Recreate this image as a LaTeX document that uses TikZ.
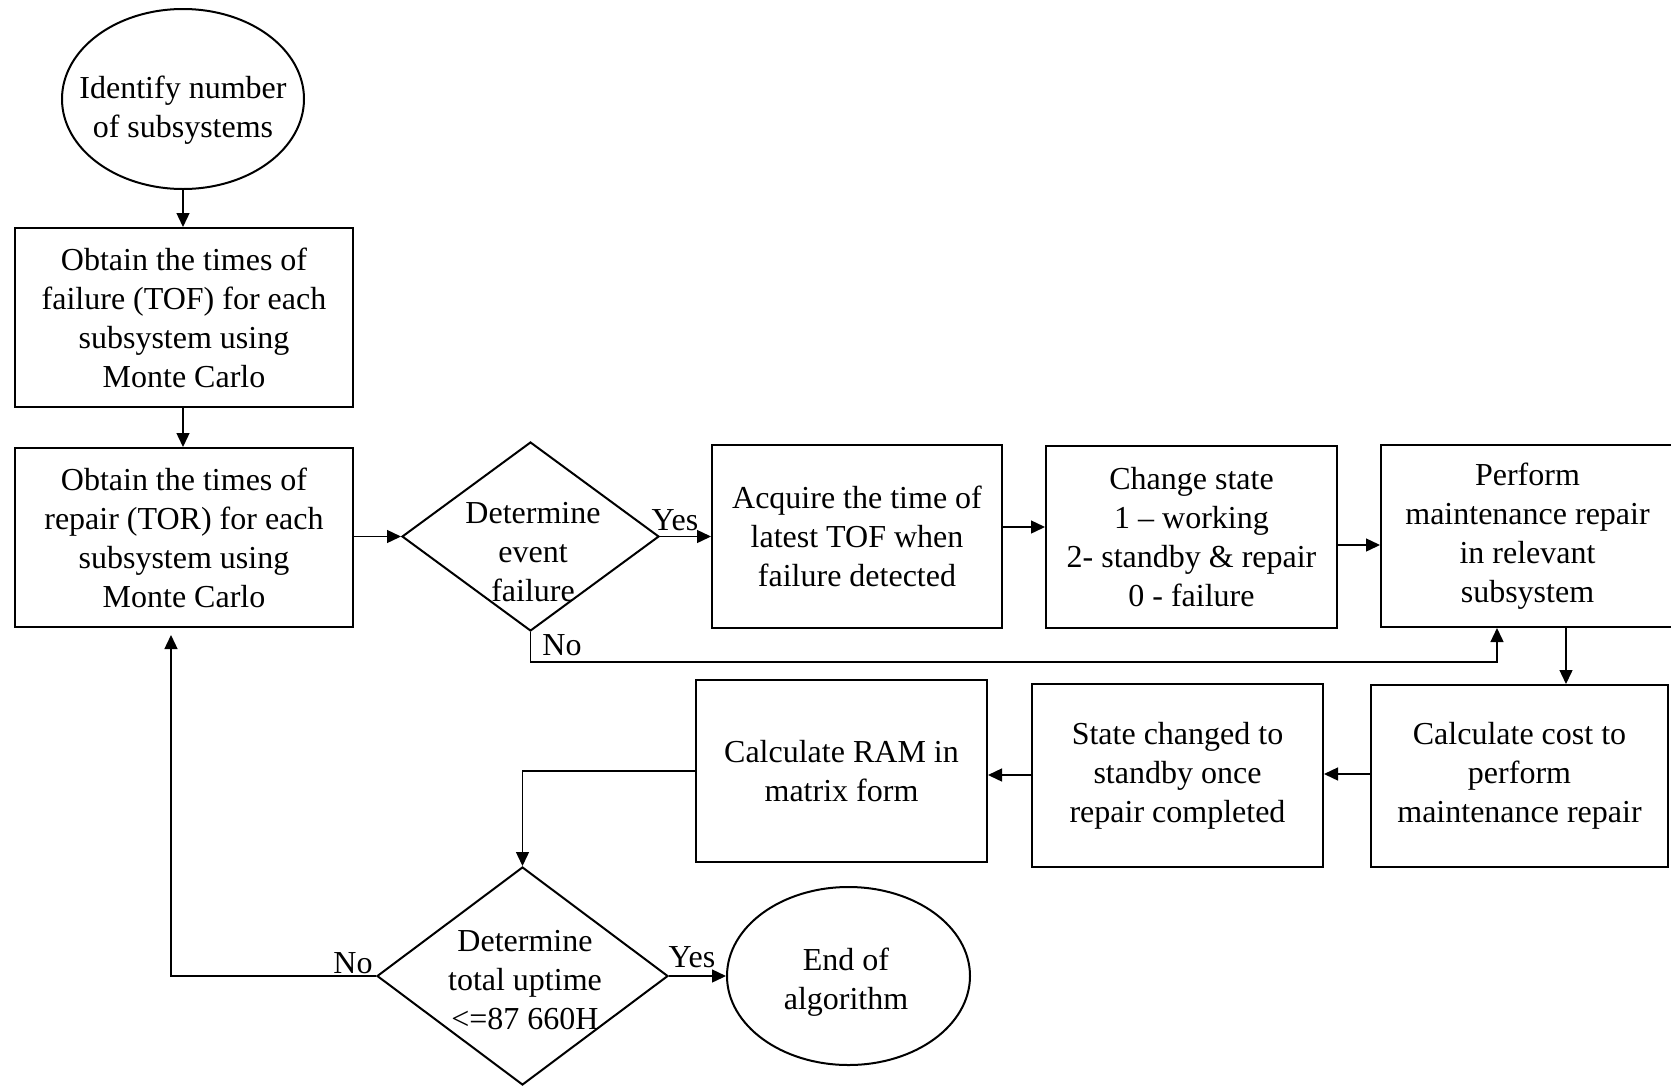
\documentclass[tikz,border=0pt]{standalone}
\usepackage{fontspec}
\setmainfont{Liberation Serif}
\usetikzlibrary{shapes.geometric,arrows.meta}
\begin{document}
\begin{tikzpicture}[x=0.5pt,y=-0.5pt,
  every node/.style={font=\fontsize{16}{19.5}\selectfont, align=center, inner sep=0pt},
  box/.style={draw, line width=1pt, rectangle},
  ell/.style={draw, line width=1pt, ellipse},
  dia/.style={draw, line width=1pt, diamond},
  arr/.style={line width=0.7pt, -{Triangle[length=7pt,width=6.5pt]}},
  lbl/.style={}
]
\fill[white] (0,0) rectangle (1671,1087);
\useasboundingbox (0,0) rectangle (1671,1087);

% nodes
\node[ell, minimum width=121pt, minimum height=90pt] (e1) at (183,99) {};
\node (e1t) at (183,110) {Identify number\\of subsystems};

\node[box, minimum width=169pt, minimum height=89.5pt] (b1) at (184,317.5)
  {Obtain the times of\\failure (TOF) for each\\subsystem using\\Monte Carlo};
\node[box, minimum width=169pt, minimum height=89.5pt] (b2) at (184,537.5)
  {Obtain the times of\\repair (TOR) for each\\subsystem using\\Monte Carlo};

\node[dia, minimum width=128.5pt, minimum height=94.5pt] (d1) at (530.5,536.5) {};
\node (d1t) at (533,552) {Determine\\event\\failure};

\node[box, minimum width=145pt, minimum height=91.5pt] (b3) at (857,536.5)
  {Acquire the time of\\latest TOF when\\failure detected};
\node[box, minimum width=145.5pt, minimum height=91pt] (b4) at (1191.5,537)
  {Change state\\1 – working\\2- standby \& repair\\0 - failure};
\node[box, minimum width=146.5pt, minimum height=91pt] (b5) at (1527.5,536)
  {Perform\\maintenance repair\\in relevant\\subsystem};
\node[box, minimum width=148.5pt, minimum height=91pt] (b6) at (1519.5,776)
  {Calculate cost to\\perform\\maintenance repair};
\node[box, minimum width=145.5pt, minimum height=91.5pt] (b7) at (1177.5,775.5)
  {State changed to\\standby once\\repair completed};
\node[box, minimum width=145.5pt, minimum height=91pt] (b8) at (841.5,771)
  {Calculate RAM in\\matrix form};

\node[dia, minimum width=145.5pt, minimum height=109pt] (d2) at (522.5,976) {};
\node (d2t) at (525,980) {Determine\\total uptime\\<=87 660H};

\node[ell, minimum width=121.5pt, minimum height=89pt] (e2) at (848.5,976) {};
\node (e2t) at (846,982) {End of\\algorithm};

% labels
\node[lbl] (yes1) at (675,520) {Yes};
\node[lbl] (no1) at (562,645) {No};
\node[lbl] (yes2) at (692,957) {Yes};
\node[lbl] (no2) at (353,963) {No};

\coordinate (tip) at (171,635);

% connectors
\draw[arr] (e1.south) -- (e1.south |- b1.north);
\draw[arr] (e1.south |- b1.south) -- (e1.south |- b2.north);
\draw[arr] (b2.east |- d1.west) -- (d1.west);
\draw[arr] (d1.east) -- (d1.east -| b3.west);
\draw[arr] (b3.east |- 0,527) -- (b4.west |- 0,527);
\draw[arr] (b4.east |- 0,545) -- (b5.west |- 0,545);
\draw[arr] (b5.south -| 1566,0) -- (b6.north -| 1566,0);
\draw[arr] (b6.west |- 0,774) -- (b7.east |- 0,774);
\draw[arr] (b7.west |- 0,775) -- (b8.east |- 0,775);
\draw[arr] (d1.south) -- (d1.south |- 0,662) -- (1497,662) -- (b5.south -| 1497,0);
\draw[arr] (b8.west |- 0,771) -- (d2.north |- 0,771) -- (d2.north);
\draw[arr] (d2.east) -- (e2.west);
\draw[arr] (d2.west) -| (tip);
\end{tikzpicture}
\end{document}
